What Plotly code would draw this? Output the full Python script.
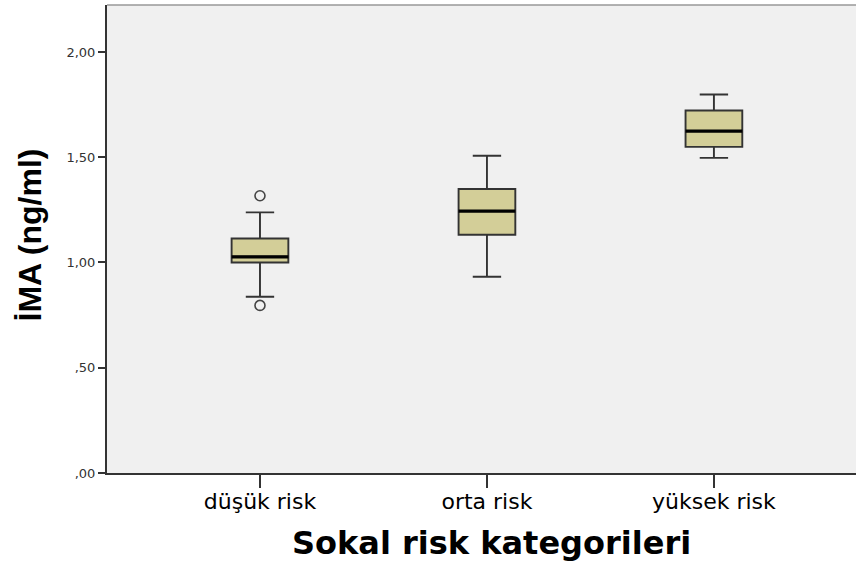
import plotly.graph_objects as go

# Sokal risk groups and the İMA distribution summary for each
categories = ["düşük risk", "orta risk", "yüksek risk"]
q1 = [1.000, 1.132, 1.549]
median = [1.027, 1.244, 1.624]
q3 = [1.114, 1.349, 1.722]
lower_whisker = [0.837, 0.932, 1.497]
upper_whisker = [1.238, 1.507, 1.798]

# outlying values (group index, value)
outlier_group = [0, 0]
outlier_value = [1.317, 0.796]

y_tickvals = [0.0, 0.5, 1.0, 1.5, 2.0]
y_ticktext = [",00", ",50", "1,00", "1,50", "2,00"]

BOX_FILL = "#d3ce98"
EDGE = "#333333"
BOX_WIDTH = 0.25
positions = list(range(len(categories)))

fig = go.Figure()

fig.add_trace(go.Box(
    x=positions,
    q1=q1, median=median, q3=q3,
    lowerfence=lower_whisker, upperfence=upper_whisker,
    width=BOX_WIDTH, whiskerwidth=0.5,
    fillcolor=BOX_FILL,
    line=dict(color=EDGE, width=1.9),
    boxpoints=False,
    showlegend=False,
    hoverinfo="skip",
))

# thicker median bars drawn across each box
mx, my = [], []
for p, m in zip(positions, median):
    mx += [p - BOX_WIDTH / 2, p + BOX_WIDTH / 2, None]
    my += [m, m, None]
fig.add_trace(go.Scatter(
    x=mx, y=my, mode="lines",
    line=dict(color="#000000", width=3.2),
    showlegend=False, hoverinfo="skip",
))

fig.add_trace(go.Scatter(
    x=outlier_group, y=outlier_value, mode="markers",
    marker=dict(symbol="circle-open", size=10, color="#444444",
                line=dict(width=1.6, color="#444444")),
    showlegend=False, hoverinfo="skip",
))

fig.update_layout(
    width=856, height=565,
    margin=dict(l=107, r=0, t=5, b=92, autoexpand=False),
    paper_bgcolor="#ffffff",
    plot_bgcolor="#f0f0f0",
    xaxis=dict(
        range=[-0.674, 2.626],
        tickmode="array", tickvals=positions, ticktext=categories,
        ticks="outside", ticklen=13, tickwidth=1.5, tickcolor="#333333",
        ticklabelstandoff=-5,
        showline=True, linecolor="#333333", linewidth=2,
        showgrid=False, zeroline=False,
        tickfont=dict(family="DejaVu Sans", size=22, color="#000000"),
        automargin=False,
    ),
    yaxis=dict(
        range=[0, 2.223],
        tickmode="array", tickvals=y_tickvals, ticktext=y_ticktext,
        ticks="outside", ticklen=7, tickwidth=1.5, tickcolor="#333333",
        showline=True, linecolor="#333333", linewidth=2,
        showgrid=False, zeroline=False,
        tickfont=dict(family="DejaVu Sans", size=13, color="#333333"),
        automargin=False,
    ),
    shapes=[dict(type="line", xref="paper", yref="paper",
                 x0=0, x1=1, y0=1, y1=1,
                 line=dict(color="#999999", width=1.5))],
    annotations=[
        dict(text="Sokal risk kategorileri", xref="paper", yref="paper",
             x=0.514, y=-0.1496, xanchor="center", yanchor="middle",
             showarrow=False,
             font=dict(family="DejaVu Sans", size=32, color="#000000",
                       weight="bold")),
        dict(text="İMA (ng/ml)", xref="paper", yref="paper",
             x=-0.1028, y=0.5075, xanchor="center", yanchor="middle",
             textangle=-90, showarrow=False,
             font=dict(family="Liberation Sans", size=32, color="#000000",
                       weight="bold")),
    ],
)

fig.write_html("out.html")
